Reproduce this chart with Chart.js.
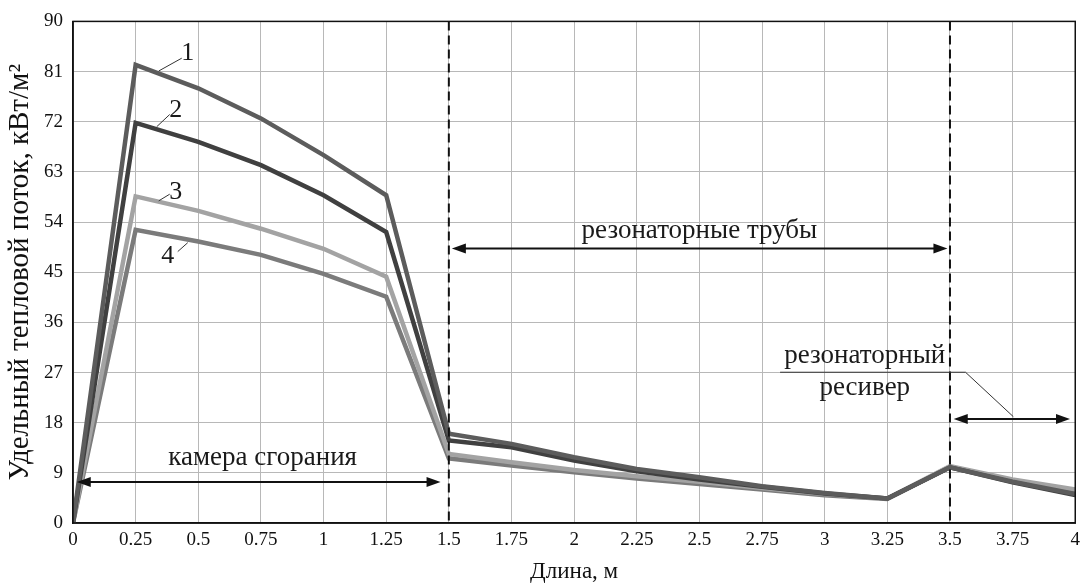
<!DOCTYPE html>
<html>
<head>
<meta charset="utf-8">
<script src="https://cdn.jsdelivr.net/npm/chart.js@4.4.1/dist/chart.umd.min.js"></script>
<style>
  html, body { margin: 0; padding: 0; background: #fff; }
  #wrap { width: 1086px; height: 587px; }
</style>
</head>
<body>
<div id="wrap"><canvas id="heatChart"></canvas></div>
<script>
// Длина, м
const lengths = [0, 0.25, 0.5, 0.75, 1, 1.25, 1.5, 1.75, 2, 2.25, 2.5, 2.75, 3, 3.25, 3.5, 3.75, 4];
// Удельный тепловой поток, кВт/м2
const flux1 = [0, 82.2, 78.0, 72.6, 66.0, 58.8, 16.0, 14.2, 11.8, 9.7, 8.2, 6.6, 5.4, 4.4, 10.0, 7.4, 5.2];
const flux2 = [0, 71.8, 68.4, 64.2, 58.8, 52.2, 14.8, 13.6, 11.2, 9.3, 7.8, 6.5, 5.3, 4.4, 10.0, 7.3, 5.0];
const flux3 = [0, 58.6, 56.0, 52.8, 49.2, 44.2, 12.4, 10.9, 9.5, 8.4, 7.4, 6.3, 5.2, 4.4, 10.2, 7.8, 6.0];
const flux4 = [0, 52.6, 50.5, 48.1, 44.7, 40.6, 11.6, 10.3, 9.1, 8.0, 7.0, 6.0, 5.0, 4.3, 10.0, 7.6, 5.8];
const seriesNames = ['1', '2', '3', '4'];
const seriesColors = ['#5c5c5c', '#404040', '#a3a3a3', '#7b7b7b'];

// section boundaries (dashed lines), м
const sectionBounds = [1.5, 3.5];

// curve labels: [text, x, y, leaderX1, leaderY1, leaderX2, leaderY2] in data units
const curveLabels = [
  ['1', 0.458, 84.3, 0.342, 81.1, 0.434, 83.4],
  ['2', 0.41, 74.0, 0.334, 71.1, 0.386, 73.3],
  ['3', 0.41, 59.4, 0.342, 57.8, 0.386, 59.0],
  ['4', 0.378, 47.8, 0.418, 48.7, 0.458, 50.3]
];

// section arrows: [x1, x2, y]
const sectionArrows = [
  [0.015, 1.467, 7.36],
  [1.512, 3.49, 49.25],
  [3.515, 3.979, 18.66]
];
// section texts: [text, x, y]
const sectionTexts = [
  ['камера сгорания', 0.757, 11.6],
  ['резонаторные трубы', 2.5, 52.4],
  ['резонаторный', 3.16, 29.9],
  ['ресивер', 3.16, 24.3]
];
// receiver callout: underline + leader, data units
const calloutPath = [[2.822, 27.05], [3.562, 27.05], [3.753, 19.07]];

const SERIF = '"Liberation Serif", "DejaVu Serif", serif';

const toPts = (ys) => ys.map((y, i) => ({ x: lengths[i], y: y }));

function arrowHead(ctx, x, y, dir) {
  const len = 14, half = 5;
  ctx.beginPath();
  ctx.moveTo(x, y);
  ctx.lineTo(x - dir * len, y - half);
  ctx.lineTo(x - dir * len, y + half);
  ctx.closePath();
  ctx.fill();
}

const annotationPlugin = {
  id: 'annotations',
  afterDatasetsDraw(chart) {
    const { ctx, chartArea, scales: { x, y } } = chart;
    ctx.save();

    // dashed section bounds
    ctx.strokeStyle = '#111';
    ctx.lineWidth = 2;
    ctx.setLineDash([9, 5]);
    sectionBounds.forEach(b => {
      const px = x.getPixelForValue(b);
      ctx.beginPath();
      ctx.moveTo(px, chartArea.top);
      ctx.lineTo(px, chartArea.bottom);
      ctx.stroke();
    });
    ctx.setLineDash([]);

    // double arrows
    ctx.fillStyle = '#111';
    ctx.lineWidth = 2;
    sectionArrows.forEach(a => {
      const x1 = x.getPixelForValue(a[0]);
      const x2 = x.getPixelForValue(a[1]);
      const py = y.getPixelForValue(a[2]);
      ctx.beginPath();
      ctx.moveTo(x1 + 8, py);
      ctx.lineTo(x2 - 8, py);
      ctx.stroke();
      arrowHead(ctx, x1, py, -1);
      arrowHead(ctx, x2, py, 1);
    });

    // receiver callout
    ctx.strokeStyle = '#333';
    ctx.lineWidth = 1;
    ctx.beginPath();
    calloutPath.forEach((p, i) => {
      const px = x.getPixelForValue(p[0]);
      const py = y.getPixelForValue(p[1]);
      if (i === 0) ctx.moveTo(px, py); else ctx.lineTo(px, py);
    });
    ctx.stroke();

    // section texts
    ctx.fillStyle = '#1a1a1a';
    ctx.font = '27px ' + SERIF;
    ctx.textAlign = 'center';
    ctx.textBaseline = 'middle';
    sectionTexts.forEach(t => {
      ctx.fillText(t[0], x.getPixelForValue(t[1]), y.getPixelForValue(t[2]));
    });

    // curve labels with leaders
    ctx.font = '26px ' + SERIF;
    curveLabels.forEach(l => {
      ctx.beginPath();
      ctx.moveTo(x.getPixelForValue(l[3]), y.getPixelForValue(l[4]));
      ctx.lineTo(x.getPixelForValue(l[5]), y.getPixelForValue(l[6]));
      ctx.stroke();
      ctx.fillText(l[0], x.getPixelForValue(l[1]), y.getPixelForValue(l[2]));
    });

    // frame
    ctx.strokeStyle = '#111';
    ctx.lineWidth = 1.5;
    ctx.strokeRect(chartArea.left, chartArea.top, chartArea.right - chartArea.left, chartArea.bottom - chartArea.top);
    ctx.restore();
  }
};

const allFlux = [flux1, flux2, flux3, flux4];

new Chart(document.getElementById('heatChart'), {
  type: 'line',
  data: {
    datasets: allFlux.map((f, i) => ({
      label: seriesNames[i],
      data: toPts(f),
      borderColor: seriesColors[i],
      borderWidth: 4.5,
      pointRadius: 0,
      tension: 0,
      fill: false
    }))
  },
  options: {
    responsive: true,
    maintainAspectRatio: false,
    animation: false,
    layout: { padding: { left: 0, top: 18, right: 8, bottom: 0 } },
    plugins: { legend: { display: false }, tooltip: { enabled: false } },
    scales: {
      x: {
        type: 'linear',
        min: 0,
        max: 4,
        ticks: {
          stepSize: 0.25,
          color: '#111',
          padding: 6,
          font: { family: SERIF, size: 19 },
          callback: (v) => String(Math.round(v * 100) / 100)
        },
        grid: { color: '#b8b8b8', lineWidth: 1, tickLength: 0 },
        border: { color: '#111', width: 1.5 },
        title: {
          display: true,
          text: 'Длина, м',
          color: '#111',
          font: { family: SERIF, size: 23 },
          padding: { top: 0, bottom: 1 }
        },
        afterFit: (scale) => { scale.height = 64; }
      },
      y: {
        min: 0,
        max: 90,
        ticks: {
          stepSize: 9,
          color: '#111',
          padding: 10,
          font: { family: SERIF, size: 19 }
        },
        grid: { color: '#b8b8b8', lineWidth: 1, tickLength: 0 },
        border: { color: '#111', width: 1.5 },
        title: {
          display: true,
          text: 'Удельный тепловой поток, кВт/м²',
          color: '#111',
          font: { family: SERIF, size: 29 },
          padding: { top: 3, bottom: 0 }
        },
        afterFit: (scale) => { scale.width = 73; }
      }
    }
  },
  plugins: [annotationPlugin]
});
</script>
</body>
</html>
